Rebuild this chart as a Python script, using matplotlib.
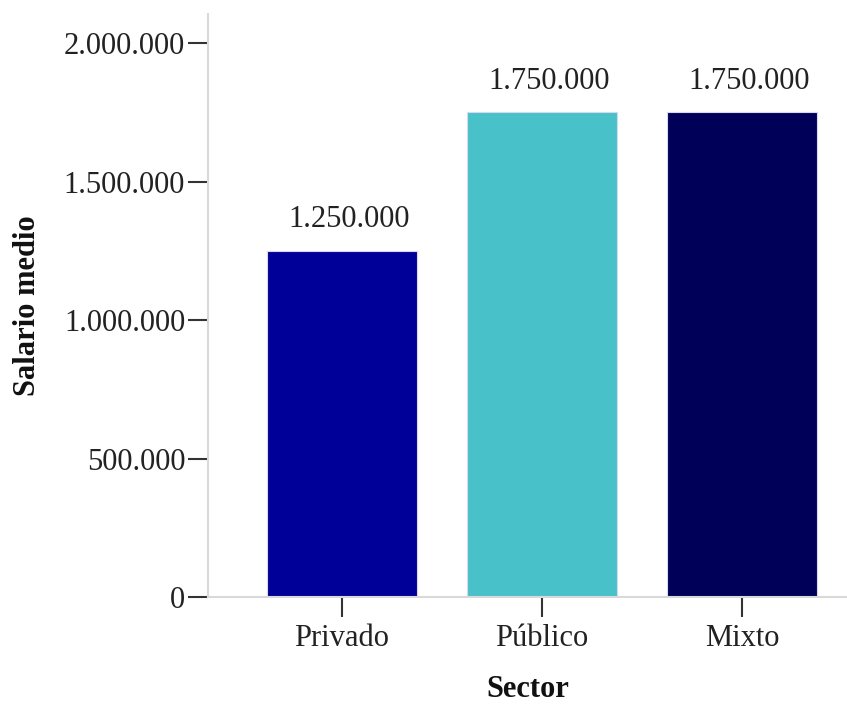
import matplotlib
matplotlib.use("Agg")
import matplotlib.pyplot as plt
from matplotlib.ticker import FuncFormatter

categories = ["Privado", "Público", "Mixto"]
values = [1250000, 1750000, 1750000]
colors = ["#000099", "#48C2C8", "#000058"]
yticks = [0, 500000, 1000000, 1500000, 2000000]

plt.rcParams['font.family'] = ['Liberation Serif', 'DejaVu Serif']

def fmt(v):
    return f"{int(v):,}".replace(",", ".")

fig = plt.figure(figsize=(8.47, 7.05), dpi=100)
ax = fig.add_axes([208/847, 1-597/705, 1-208/847, (597-14)/705])

x = list(range(len(categories)))
bars = ax.bar(x, values, width=0.75, color=colors, edgecolor="#d8d8ee", linewidth=0.8, zorder=2)

for xi, v in zip(x, values):
    ax.annotate(fmt(v), (xi, v), xytext=(5, 17), textcoords="offset points",
                ha="center", va="baseline", fontsize=22, color="#222222")

ax.set_xlim(-0.67, 2.525)
ax.set_ylim(0, 2.105e6)
ax.set_yticks(yticks)
ax.yaxis.set_major_formatter(FuncFormatter(lambda v, p: fmt(v)))
ax.set_xticks(x)
ax.set_xticklabels(categories)

for s in ["top", "right"]:
    ax.spines[s].set_visible(False)
for s in ["left", "bottom"]:
    ax.spines[s].set_color("#d9d9d9")
    ax.spines[s].set_linewidth(1.5)

ax.tick_params(axis="both", direction="out", length=14.4, width=1.5, color="#333333",
               labelsize=22, labelcolor="#222222", pad=2)
ax.tick_params(axis="x", pad=5)

ax.set_ylabel("Salario medio", fontsize=22, fontweight="bold", color="#111111", labelpad=16)
ax.set_xlabel("Sector", fontsize=22, fontweight="bold", color="#111111", labelpad=16)

fig.savefig("out.png", dpi=100)
